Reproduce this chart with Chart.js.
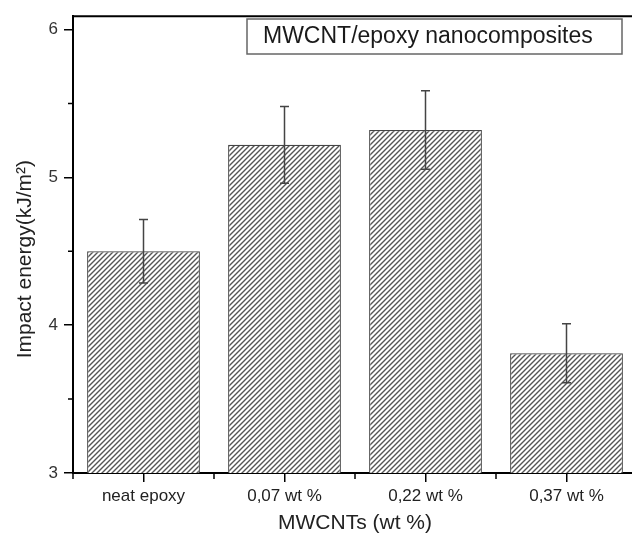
<!DOCTYPE html>
<html>
<head>
<meta charset="utf-8">
<script src="https://cdn.jsdelivr.net/npm/chart.js@4"></script>
<style>
  html, body { margin: 0; padding: 0; background: #fff; overflow: hidden; }
  canvas { display: block; }
</style>
</head>
<body>
<canvas id="myChart" width="650" height="536"></canvas>
<script>
const categories = ['neat epoxy', '0,07 wt %', '0,22 wt %', '0,37 wt %'];
const impactEnergy = [4.50, 5.22, 5.32, 3.81];
const errors = [0.215, 0.26, 0.265, 0.2];
const yTicks = [3, 4, 5, 6];
const yMinor = [3.5, 4.5, 5.5];
const legendText = 'MWCNT/epoxy nanocomposites';

Chart.defaults.font.family = "'Liberation Sans', Arial, sans-serif";
Chart.defaults.color = '#333';

// hatch fill "/"
function hatch() {
  const c = document.createElement('canvas');
  c.width = 5; c.height = 5;
  const g = c.getContext('2d');
  g.fillStyle = '#fff';
  g.fillRect(0, 0, 5, 5);
  g.strokeStyle = '#555';
  g.lineWidth = 1.4;
  g.beginPath();
  g.moveTo(0, 5); g.lineTo(5, 0);
  g.moveTo(-1, 1); g.lineTo(1, -1);
  g.moveTo(4, 6); g.lineTo(6, 4);
  g.stroke();
  return g.createPattern(c, 'repeat');
}

const extras = {
  id: 'extras',
  afterDatasetsDraw(chart) {
    const ctx = chart.ctx;
    const x = chart.scales.x, y = chart.scales.y;
    const area = chart.chartArea;
    ctx.save();
    // error bars
    ctx.strokeStyle = '#444';
    ctx.lineWidth = 1.5;
    chart.getDatasetMeta(0).data.forEach((bar, i) => {
      const v = impactEnergy[i], e = errors[i];
      const top = y.getPixelForValue(v + e), bot = y.getPixelForValue(v - e);
      ctx.beginPath();
      ctx.moveTo(bar.x, top); ctx.lineTo(bar.x, bot);
      ctx.moveTo(bar.x - 4.5, top); ctx.lineTo(bar.x + 4.5, top);
      ctx.moveTo(bar.x - 4.5, bot); ctx.lineTo(bar.x + 4.5, bot);
      ctx.stroke();
    });
    // top frame
    ctx.strokeStyle = '#000';
    ctx.lineWidth = 2;
    ctx.beginPath();
    ctx.moveTo(area.left - 1, area.top); ctx.lineTo(area.right, area.top);
    ctx.stroke();
    // minor ticks
    ctx.lineWidth = 1.5;
    ctx.beginPath();
    yMinor.forEach(v => {
      const py = y.getPixelForValue(v);
      ctx.moveTo(area.left, py); ctx.lineTo(area.left - 5, py);
    });
    for (let i = 0; i <= categories.length; i++) {
      const px = x.getPixelForValue(i - 0.5);
      ctx.moveTo(px, area.bottom); ctx.lineTo(px, area.bottom + 6);
    }
    ctx.stroke();
    // legend box
    ctx.fillStyle = '#fff';
    ctx.fillRect(247, 19, 375, 35);
    ctx.strokeStyle = '#666';
    ctx.lineWidth = 1.5;
    ctx.strokeRect(247, 19, 375, 35);
    ctx.fillStyle = '#1a1a1a';
    ctx.font = "23px 'Liberation Sans', Arial, sans-serif";
    ctx.textBaseline = 'middle';
    ctx.fillText(legendText, 263, 37);
    ctx.restore();
  }
};

const ctx = document.getElementById('myChart');
new Chart(ctx, {
  type: 'bar',
  data: {
    labels: categories,
    datasets: [{
      data: impactEnergy,
      backgroundColor: hatch(),
      borderColor: '#444',
      borderWidth: 1.2,
      barPercentage: 0.8,
      categoryPercentage: 1.0
    }]
  },
  options: {
    responsive: false,
    animation: false,
    layout: { padding: { left: 0, top: 14, right: 13, bottom: 0 } },
    plugins: { legend: { display: false }, tooltip: { enabled: false } },
    scales: {
      x: {
        afterFit: s => { s.height = 63; },
        grid: { offset: false, drawOnChartArea: false, tickLength: 9, color: '#000', lineWidth: 1.5 },
        border: { color: '#000', width: 2 },
        ticks: { font: { size: 17 }, padding: 4, color: '#222' },
        title: { display: true, text: 'MWCNTs (wt %)', font: { size: 21 }, color: '#222', padding: { top: 0, bottom: 0 } }
      },
      y: {
        min: 3,
        max: 6.09,
        afterFit: s => { s.width = 73; },
        afterBuildTicks: s => { s.ticks = yTicks.map(v => ({ value: v })); },
        grid: { drawOnChartArea: false, tickLength: 9, color: '#000', lineWidth: 1.5 },
        border: { color: '#000', width: 2 },
        ticks: { font: { size: 17 }, padding: 6, color: '#333' },
        title: { display: true, text: 'Impact energy(kJ/m²)     ', font: { size: 21 }, color: '#222', padding: { top: 13, bottom: 0 } }
      }
    }
  },
  plugins: [extras]
});
</script>
</body>
</html>
